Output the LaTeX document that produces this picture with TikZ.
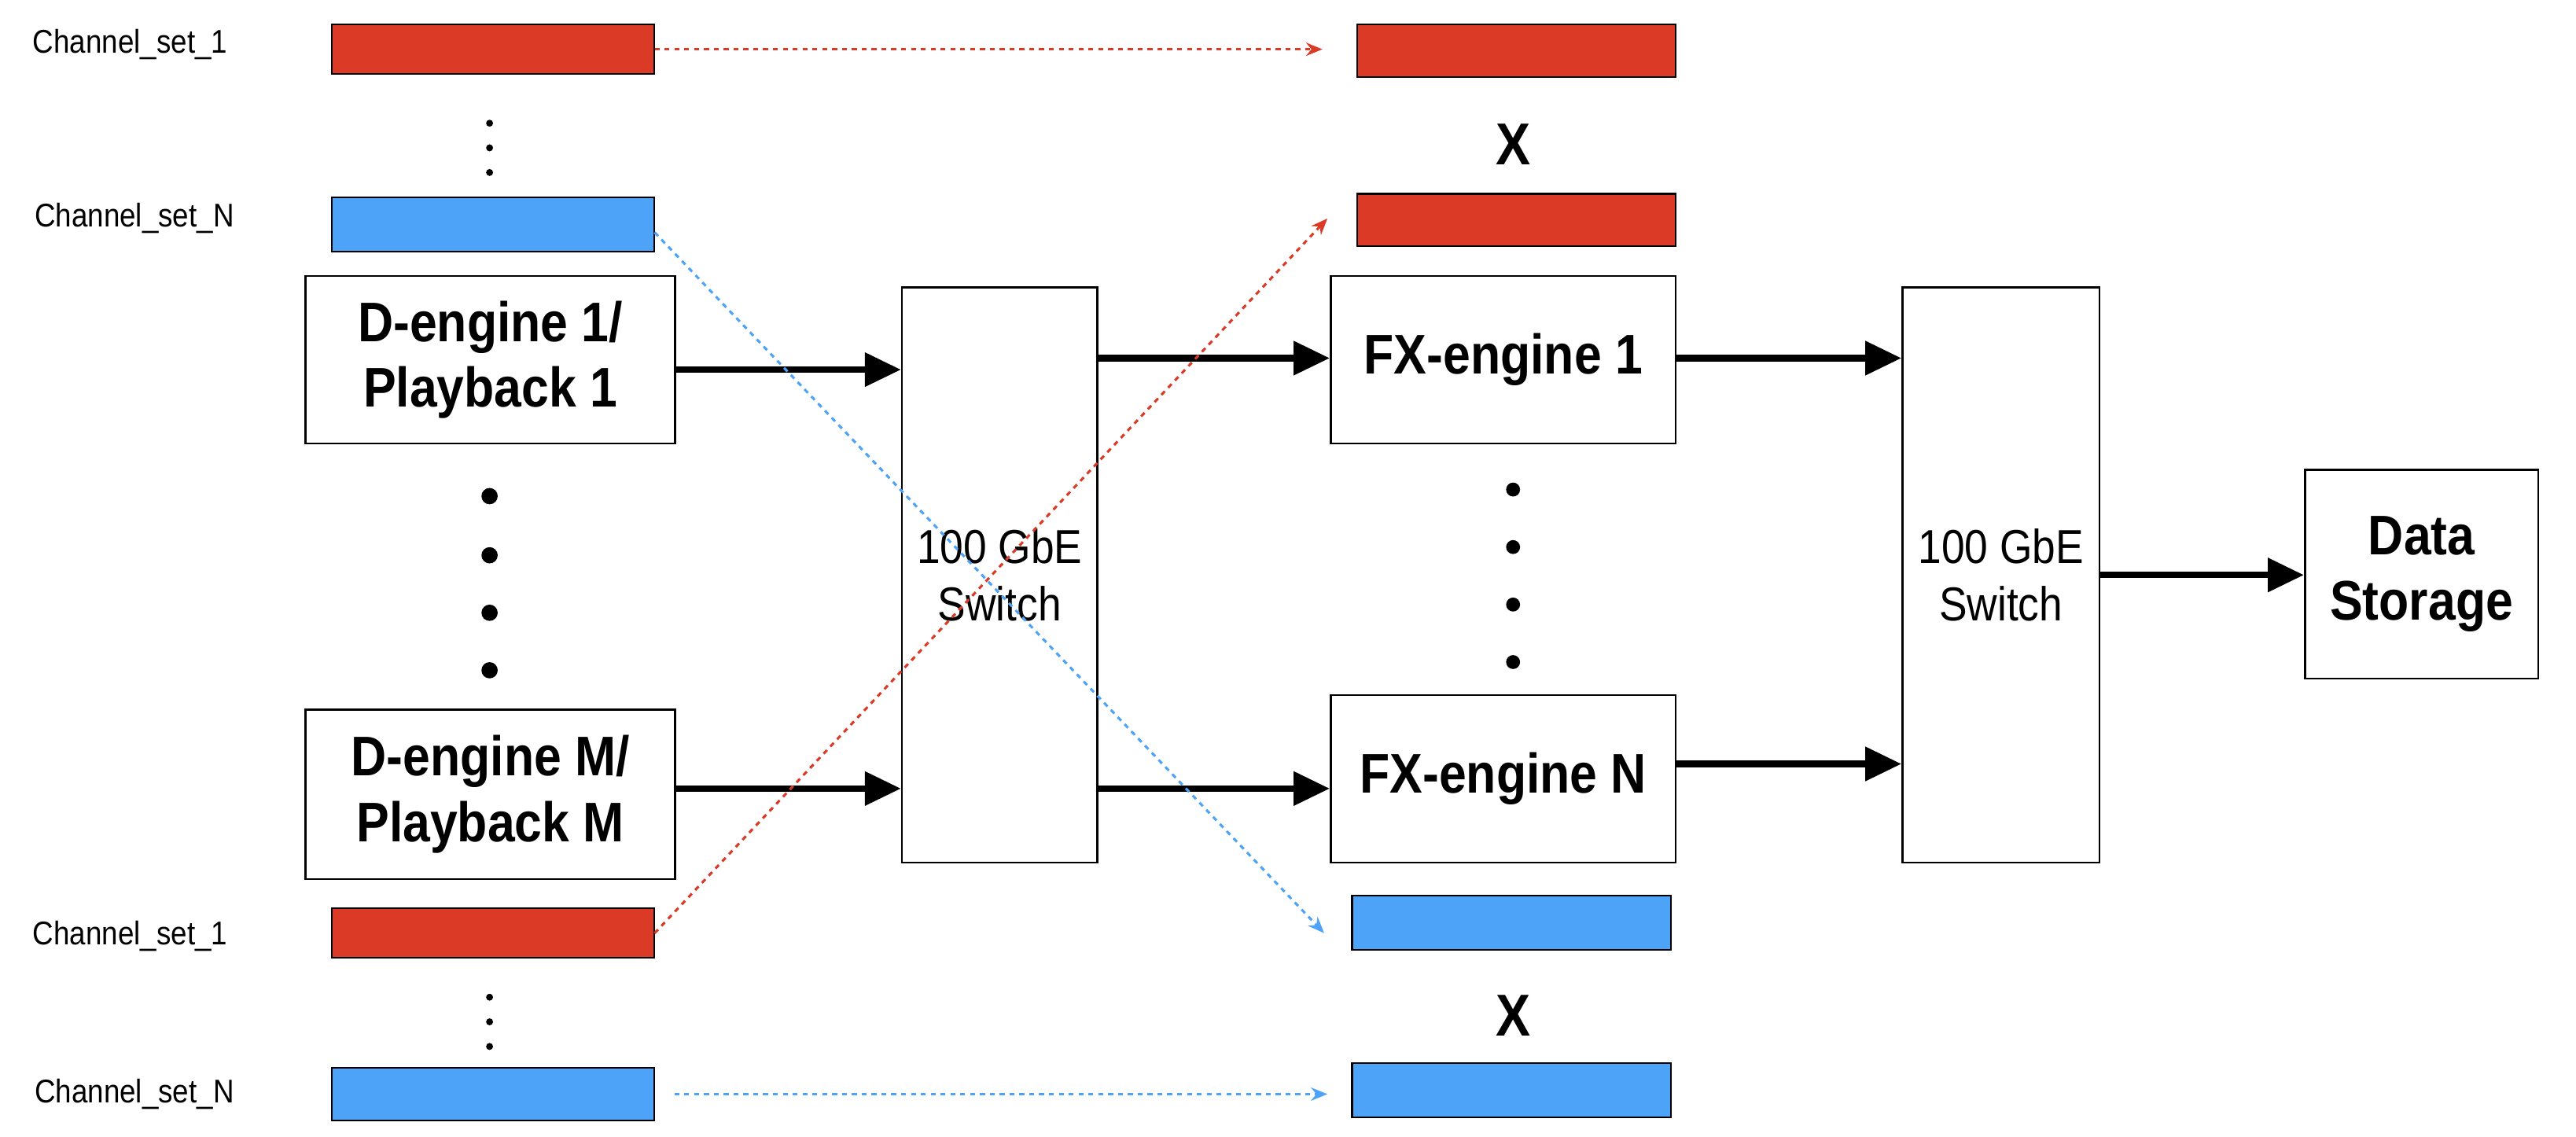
\documentclass[tikz,border=0pt]{standalone}
\usepackage{fontspec}
\setmainfont[FakeStretch=0.88]{Liberation Sans}
\usetikzlibrary{arrows.meta}
\definecolor{cred}{HTML}{DB3B26}
\definecolor{cblue}{HTML}{4DA3F7}
\begin{document}
\begin{tikzpicture}[x=1pt,y=-1pt,
 box/.style={draw,line width=1.2pt,fill=white,align=center,font=\bfseries\fontsize{34}{40}\selectfont,inner sep=0},
 sw/.style={draw,line width=1.2pt,align=center,font=\fontsize{29}{35}\selectfont,inner sep=0},
 bar/.style={draw,line width=1pt,inner sep=0},
 lab/.style={font=\fontsize{20}{24}\selectfont,anchor=east},
 thick arr/.style={line width=4pt,-{Triangle[length=22pt,width=20pt]}},
 dot arr/.style={line width=1.5pt,dash pattern=on 3pt off 3pt,-{Stealth[length=10pt,width=8pt]}},
 sdot/.style={circle,fill,inner sep=1.5pt},
 bdot/.style={circle,fill,inner sep=3.5pt}]
\useasboundingbox (0,0) rectangle (1568,692);
% left bars
\node[bar,fill=cred,minimum width=196pt,minimum height=30pt] (lr1) at (300,30) {};
\node[bar,fill=cblue,minimum width=196pt,minimum height=33pt] (lbN) at (300,136.5) {};
\node[bar,fill=cred,minimum width=196pt,minimum height=30pt] (lr2) at (300,568) {};
\node[bar,fill=cblue,minimum width=196pt,minimum height=32pt] (lbN2) at (300,666) {};
\node[lab] (t1) at (142,27) {Channel\_set\_1};
\node[lab] (t2) at (146,133) {Channel\_set\_N};
\node[lab] (t3) at (142,570) {Channel\_set\_1};
\node[lab] (t4) at (146,666) {Channel\_set\_N};
\foreach \y [count=\i] in {75,90,105} \node[sdot] (sa\i) at (298,\y) {};
\foreach \y [count=\i] in {607,622,637} \node[sdot] (sb\i) at (298,\y) {};
% D engines
\node[box,minimum width=225pt,minimum height=102pt] (d1) at (298.5,219) {D-engine 1/\\Playback 1};
\node[box,minimum width=225pt,minimum height=103pt] (dm) at (298.5,483.5) {D-engine M/\\Playback M};
\foreach \y [count=\i] in {302,338,373,408} \node[bdot] (da\i) at (298,\y) {};
% switches
\node[sw,minimum width=119pt,minimum height=350pt] (s1) at (608.5,350) {100 GbE\\Switch};
\node[sw,minimum width=120pt,minimum height=350pt] (s2) at (1218,350) {100 GbE\\Switch};
% FX engines
\node[box,minimum width=210pt,minimum height=102pt] (f1) at (915,219) {FX-engine 1};
\node[box,minimum width=210pt,minimum height=102pt] (fn) at (915,474) {FX-engine N};
\foreach \y [count=\i] in {298,333,368,403} \node[sdot,inner sep=3pt] (fa\i) at (921,\y) {};
\node[box,minimum width=142pt,minimum height=127pt] (ds) at (1474,349.5) {Data\\Storage};
% right bars
\node[bar,fill=cred,minimum width=194pt,minimum height=32pt] (rr1) at (923,31) {};
\node[bar,fill=cred,minimum width=194pt,minimum height=32pt] (rr2) at (923,134) {};
\node[bar,fill=cblue,minimum width=194pt,minimum height=33pt] (rb1) at (920,561.5) {};
\node[bar,fill=cblue,minimum width=194pt,minimum height=33pt] (rb2) at (920,663.5) {};
\node[font=\bfseries\fontsize{36}{40}\selectfont] (x1) at (921,88) {X};
\node[font=\bfseries\fontsize{36}{40}\selectfont] (x2) at (921,618) {X};
% thick arrows
\draw[thick arr] (d1.east|-0,225) -- (s1.west|-0,225);
\draw[thick arr] (dm.east|-0,480) -- (s1.west|-0,480);
\draw[thick arr] (s1.east|-0,218) -- (f1.west|-0,218);
\draw[thick arr] (s1.east|-0,480) -- (fn.west|-0,480);
\draw[thick arr] (f1.east|-0,218) -- (s2.west|-0,218);
\draw[thick arr] (fn.east|-0,465) -- (s2.west|-0,465);
\draw[thick arr] (s2.east|-0,350) -- (ds.west|-0,350);
% dotted arrows
\draw[dot arr,cred] (lr1.east) -- (805,30);
\draw[dot arr,cblue] (lbN.east) ++(0,5) -- (806,568);
\draw[dot arr,cred] (lr2.east) -- (808,133);
\draw[dot arr,cblue] (lbN2.east) ++(12,0) -- (808,666);
\end{tikzpicture}
\end{document}
